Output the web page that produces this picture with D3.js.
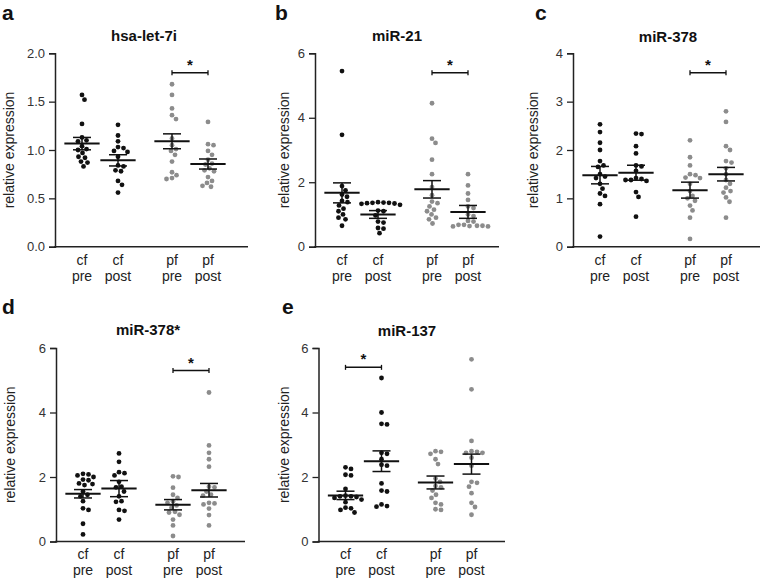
<!DOCTYPE html>
<html>
<head>
<meta charset="utf-8">
<script src="https://cdn.jsdelivr.net/npm/d3@7"></script>
<style>
  body { margin: 0; background: #fff; }
  svg { font-family: "Liberation Sans", Arial, Helvetica, sans-serif; }
</style>
</head>
<body>
<svg id="chart" width="763" height="579"></svg>
<script>
// categories
const groupTop = ["cf", "cf", "pf", "pf"];
const groupBottom = ["pre", "post", "pre", "post"];
const groupPos = [1, 2, 3.5, 4.5];

const panelLetters = ["a", "b", "c", "d", "e"];
const panelTitles = ["hsa-let-7i", "miR-21", "miR-378", "miR-378*", "miR-137"];
const yTicks = [[0, 0.5, 1, 1.5, 2], [0, 2, 4, 6], [0, 1, 2, 3, 4], [0, 2, 4, 6], [0, 2, 4, 6]];
const yFormats = [".1f", "d", "d", "d", "d"];

// per-sample values, order: cf pre, cf post, pf pre, pf post
const let7iValues = [
  [1.57, 1.52, 1.27, 1.13, 1.10, 1.09, 1.04, 1.01, 1.00, 0.97, 0.93, 0.92, 0.88, 0.87, 0.83],
  [1.26, 1.15, 1.09, 1.03, 1.02, 0.99, 0.98, 0.93, 0.84, 0.83, 0.79, 0.78, 0.68, 0.64, 0.56],
  [1.68, 1.57, 1.43, 1.36, 1.32, 1.12, 1.05, 1.01, 0.99, 0.95, 0.88, 0.77, 0.74, 0.71, 0.70],
  [1.29, 1.06, 1.05, 0.99, 0.95, 0.90, 0.86, 0.85, 0.81, 0.79, 0.78, 0.72, 0.68, 0.66, 0.63, 0.62]
];
const mir21Values = [
  [5.45, 3.47, 1.88, 1.75, 1.62, 1.55, 1.42, 1.38, 1.28, 1.18, 1.10, 1.00, 0.90, 0.85, 0.65],
  [1.38, 1.37, 1.36, 1.36, 1.35, 1.34, 1.33, 1.30, 1.12, 1.10, 0.97, 0.78, 0.75, 0.58, 0.56, 0.42],
  [4.45, 3.35, 3.22, 2.70, 2.25, 1.85, 1.60, 1.40, 1.35, 1.25, 1.15, 1.10, 1.00, 0.90, 0.85, 0.72],
  [2.25, 1.90, 1.65, 1.45, 1.25, 1.20, 1.00, 0.95, 0.80, 0.78, 0.68, 0.65, 0.64, 0.63, 0.63, 0.65, 0.68]
];
const mir378Values = [
  [2.53, 2.37, 2.15, 2.00, 1.77, 1.68, 1.65, 1.50, 1.45, 1.42, 1.30, 1.20, 1.10, 1.05, 0.88, 0.21],
  [2.34, 2.33, 2.08, 1.93, 1.68, 1.66, 1.57, 1.42, 1.40, 1.38, 1.38, 1.36, 1.13, 1.03, 0.62],
  [2.20, 1.85, 1.68, 1.50, 1.48, 1.43, 1.42, 1.30, 1.15, 1.05, 1.00, 0.95, 0.85, 0.75, 0.60, 0.16],
  [2.80, 2.58, 2.08, 2.00, 1.77, 1.74, 1.62, 1.50, 1.38, 1.30, 1.22, 1.15, 1.12, 1.02, 0.93, 0.60]
];
const mir378sValues = [
  [2.10, 2.08, 2.05, 2.00, 1.92, 1.90, 1.80, 1.78, 1.75, 1.55, 1.45, 1.40, 1.25, 1.03, 0.98, 0.55, 0.22],
  [2.73, 2.47, 2.15, 2.12, 2.05, 1.85, 1.70, 1.68, 1.55, 1.40, 1.25, 1.23, 0.98, 0.95, 0.68],
  [2.02, 2.00, 1.67, 1.45, 1.35, 1.25, 1.20, 1.12, 1.05, 0.92, 0.90, 0.83, 0.68, 0.50, 0.17],
  [4.62, 2.98, 2.75, 2.55, 2.32, 1.70, 1.68, 1.55, 1.45, 1.42, 1.20, 1.18, 1.15, 1.02, 0.82, 0.50]
];
const mir137Values = [
  [2.30, 2.25, 2.07, 2.05, 1.63, 1.42, 1.40, 1.40, 1.38, 1.35, 1.30, 1.22, 1.05, 1.03, 0.98, 0.90],
  [5.07, 4.00, 3.65, 3.63, 2.75, 2.72, 2.55, 2.38, 2.35, 1.80, 1.58, 1.55, 1.15, 1.10, 1.08],
  [2.80, 2.78, 2.72, 2.55, 2.40, 1.95, 1.85, 1.72, 1.68, 1.58, 1.45, 1.35, 1.20, 1.15, 1.00, 0.98],
  [5.65, 4.72, 3.12, 2.80, 2.78, 2.75, 2.75, 2.60, 2.35, 1.85, 1.82, 1.70, 1.50, 1.20, 1.07, 0.83]
];

// group mean and SEM as drawn
const let7iMeans = [1.066, 0.893, 1.09, 0.855];
const let7iSems = [0.064, 0.058, 0.077, 0.052];
const mir21Means = [1.67, 1.0, 1.78, 1.08];
const mir21Sems = [0.31, 0.12, 0.27, 0.2];
const mir378Means = [1.48, 1.53, 1.17, 1.5];
const mir378Sems = [0.18, 0.155, 0.165, 0.14];
const mir378sMeans = [1.48, 1.64, 1.14, 1.59];
const mir378sSems = [0.13, 0.25, 0.16, 0.21];
const mir137Means = [1.43, 2.49, 1.83, 2.4];
const mir137Sems = [0.13, 0.32, 0.2, 0.31];

// significance brackets: [from group, to group, y value]
const sigBars = [[2, 3, 1.8], [2, 3, 5.4], [2, 3, 3.6], [2, 3, 5.3], [0, 1, 5.4]];

const panelValues = [let7iValues, mir21Values, mir378Values, mir378sValues, mir137Values];
const panelMeans = [let7iMeans, mir21Means, mir378Means, mir378sMeans, mir137Means];
const panelSems = [let7iSems, mir21Sems, mir378Sems, mir378sSems, mir137Sems];

// layout of each panel on the page
const layout = [
  { x0: 55, x1: 248, top: 53.3, bottom: 246.7, letterX: 2, letterY: 20, titleX: 144, titleY: 41, ylabX: 9, labDy: 18 },
  { x0: 315, x1: 499, top: 53.3, bottom: 246.7, letterX: 275, letterY: 20, titleX: 397, titleY: 41, ylabX: 284, labDy: 18 },
  { x0: 573, x1: 760, top: 53.3, bottom: 246.7, letterX: 535, letterY: 20, titleX: 668, titleY: 42, ylabX: 533, labDy: 18 },
  { x0: 56, x1: 245, top: 348, bottom: 541.5, letterX: 2, letterY: 314, titleX: 148, titleY: 335, ylabX: 10, labDy: 17 },
  { x0: 318.5, x1: 505, top: 348, bottom: 541.5, letterX: 282, letterY: 314, titleX: 407, titleY: 336, ylabX: 284, labDy: 17 }
];

const pxPerUnit = 36;
const dotR = 2.4;
const dotColors = ["#111", "#111", "#8c8c8c", "#8c8c8c"];

// simple beeswarm: offsets in px so that dots do not overlap
function swarm(ys, minDist, step) {
  const order = ys.map((y, i) => i).sort((a, b) => ys[a] - ys[b]);
  const placed = [];
  const xs = new Array(ys.length);
  order.forEach(i => {
    for (let k = 0; k < 400; k++) {
      const off = k === 0 ? 0 : (k % 2 ? 1 : -1) * Math.ceil(k / 2) * step;
      if (placed.every(p => Math.hypot(p.x - off, p.y - ys[i]) >= minDist)) {
        xs[i] = off;
        placed.push({ x: off, y: ys[i] });
        break;
      }
    }
  });
  return xs;
}

const svg = d3.select("#chart");

layout.forEach((L, pi) => {
  const g = svg.append("g");
  const ticks = yTicks[pi];

  const y = d3.scaleLinear()
    .domain([0, ticks[ticks.length - 1]])
    .range([L.bottom, L.top]);
  const x = d3.scaleLinear()
    .domain([0.25, 0.25 + (L.x1 - L.x0) / pxPerUnit])
    .range([L.x0, L.x1]);

  // y axis
  const yAxis = g.append("g")
    .attr("transform", `translate(${L.x0},0)`)
    .call(d3.axisLeft(y).tickValues(ticks).tickFormat(d3.format(yFormats[pi])).tickSize(6).tickPadding(4));
  yAxis.select(".domain").attr("stroke", "#222").attr("stroke-width", 1.5);
  yAxis.selectAll(".tick line").attr("stroke", "#222").attr("stroke-width", 1.3);
  yAxis.selectAll(".tick text").attr("font-size", 13).attr("fill", "#333")
    .attr("font-family", "\"Liberation Sans\", Arial, sans-serif");

  // x axis line
  g.append("line")
    .attr("x1", L.x0 - 0.75).attr("x2", L.x1)
    .attr("y1", L.bottom).attr("y2", L.bottom)
    .attr("stroke", "#222").attr("stroke-width", 1.5);

  // category labels
  groupPos.forEach((p, gi) => {
    g.append("text")
      .attr("x", x(p)).attr("y", L.bottom + L.labDy)
      .attr("text-anchor", "middle").attr("font-size", 14).attr("fill", "#222")
      .text(groupTop[gi]);
    g.append("text")
      .attr("x", x(p)).attr("y", L.bottom + L.labDy + 16)
      .attr("text-anchor", "middle").attr("font-size", 14).attr("fill", "#222")
      .text(groupBottom[gi]);
  });

  // panel letter and title
  g.append("text")
    .attr("x", L.letterX).attr("y", L.letterY)
    .attr("font-size", 21).attr("font-weight", "bold").attr("fill", "#111")
    .text(panelLetters[pi]);
  g.append("text")
    .attr("x", L.titleX).attr("y", L.titleY)
    .attr("text-anchor", "middle").attr("font-size", 15).attr("font-weight", "bold").attr("fill", "#111")
    .text(panelTitles[pi]);

  // y label
  g.append("text")
    .attr("transform", `translate(${L.ylabX},${(L.top + L.bottom) / 2}) rotate(-90)`)
    .attr("text-anchor", "middle").attr("dominant-baseline", "central")
    .attr("font-size", 14).attr("fill", "#222")
    .text("relative expression");

  // dots
  panelValues[pi].forEach((vals, gi) => {
    const ys = vals.map(v => y(v));
    const offs = swarm(ys, dotR * 2 + 0.5, 0.5);
    g.append("g").selectAll("circle")
      .data(vals)
      .enter()
      .append("circle")
      .attr("cx", (d, i) => x(groupPos[gi]) + offs[i])
      .attr("cy", d => y(d))
      .attr("r", dotR)
      .attr("fill", dotColors[gi]);
  });

  // mean and SEM
  panelMeans[pi].forEach((m, gi) => {
    const s = panelSems[pi][gi];
    const cx = groupPos[gi];
    g.append("line")
      .attr("x1", x(cx - 0.49)).attr("x2", x(cx + 0.49))
      .attr("y1", y(m)).attr("y2", y(m))
      .attr("stroke", "#111").attr("stroke-width", 2);
    g.append("line")
      .attr("x1", x(cx)).attr("x2", x(cx))
      .attr("y1", y(m - s)).attr("y2", y(m + s))
      .attr("stroke", "#111").attr("stroke-width", 1.5);
    [m - s, m + s].forEach(v => {
      g.append("line")
        .attr("x1", x(cx - 0.25)).attr("x2", x(cx + 0.25))
        .attr("y1", y(v)).attr("y2", y(v))
        .attr("stroke", "#111").attr("stroke-width", 1.5);
    });
  });

  // significance bracket
  const sb = sigBars[pi];
  const bx1 = x(groupPos[sb[0]]), bx2 = x(groupPos[sb[1]]), by = y(sb[2]);
  g.append("line").attr("x1", bx1).attr("x2", bx2).attr("y1", by).attr("y2", by)
    .attr("stroke", "#111").attr("stroke-width", 1.5);
  [bx1, bx2].forEach(bx => {
    g.append("line").attr("x1", bx).attr("x2", bx).attr("y1", by - 2.5).attr("y2", by + 2.5)
      .attr("stroke", "#111").attr("stroke-width", 1.3);
  });
  g.append("text")
    .attr("x", (bx1 + bx2) / 2).attr("y", by - 3)
    .attr("text-anchor", "middle").attr("font-size", 15).attr("font-weight", "bold").attr("fill", "#111")
    .text("*");
});
</script>
</body>
</html>
